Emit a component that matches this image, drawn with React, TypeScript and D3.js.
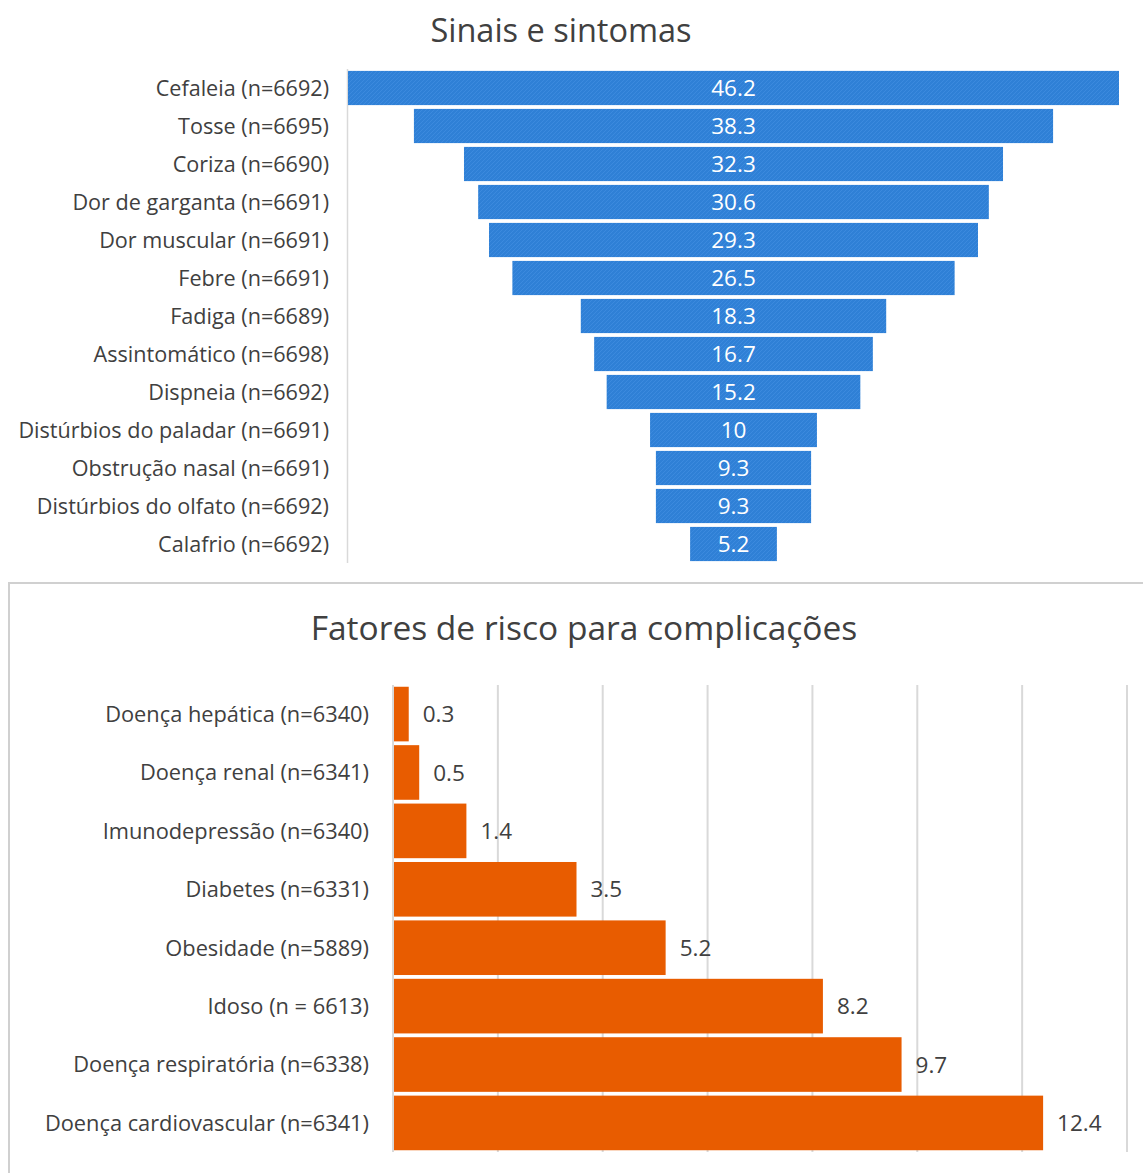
import React from "react";
import * as d3 from "d3";

const symptomLabels = [
  "Cefaleia (n=6692)",
  "Tosse (n=6695)",
  "Coriza (n=6690)",
  "Dor de garganta (n=6691)",
  "Dor muscular (n=6691)",
  "Febre (n=6691)",
  "Fadiga (n=6689)",
  "Assintomático (n=6698)",
  "Dispneia (n=6692)",
  "Distúrbios do paladar (n=6691)",
  "Obstrução nasal (n=6691)",
  "Distúrbios do olfato (n=6692)",
  "Calafrio (n=6692)",
];
const symptomValues = [46.2, 38.3, 32.3, 30.6, 29.3, 26.5, 18.3, 16.7, 15.2, 10, 9.3, 9.3, 5.2];

const riskLabels = [
  "Doença hepática (n=6340)",
  "Doença renal (n=6341)",
  "Imunodepressão (n=6340)",
  "Diabetes (n=6331)",
  "Obesidade (n=5889)",
  "Idoso (n = 6613)",
  "Doença respiratória (n=6338)",
  "Doença cardiovascular (n=6341)",
];
const riskValues = [0.3, 0.5, 1.4, 3.5, 5.2, 8.2, 9.7, 12.4];
const riskTicks = [0, 2, 4, 6, 8, 10, 12, 14];

const FONT = "'Open Sans', 'DejaVu Sans', sans-serif";
const TEXT = "#404040";
const GRID = "#d9d9d9";
const BLUE = "#2f80d6";
const ORANGE = "#e85c00";

export default function App() {
  // top funnel chart
  const center = 733.5;
  const wScale = d3.scaleLinear().domain([0, 46.2]).range([0, 771]);
  const yTop = d3.scaleBand<string>().domain(symptomLabels).range([69, 563]).paddingInner(0.1).paddingOuter(0.05);

  // bottom bar chart
  const x0 = 393;
  const xB = d3.scaleLinear().domain([0, 14]).range([x0, 1127]);
  const yB = d3.scaleBand<string>().domain(riskLabels).range([685, 1152]).paddingInner(0.065).paddingOuter(0.03);

  return (
    <svg
      width={1143}
      height={1173}
      style={{ position: "absolute", left: 0, top: 0, background: "#fff" }}
      fontFamily={FONT}
    >
      <defs>
        <pattern id="hatch" width="4" height="4" patternUnits="userSpaceOnUse">
          <rect width="4" height="4" fill={BLUE} />
          <path d="M0,4 L4,0" stroke="#3c8ade" strokeWidth="1" />
        </pattern>
      </defs>
      <rect x={0} y={0} width={1143} height={1173} fill="#fff" />

      {/* Top chart */}
      <text x={561} y={42} textAnchor="middle" fontSize={32.5} fill={TEXT}>
        Sinais e sintomas
      </text>
      <line x1={347.5} x2={347.5} y1={69} y2={563} stroke={GRID} strokeWidth={1.5} />
      {symptomLabels.map((c, i) => {
        const w = wScale(symptomValues[i]);
        const y = yTop(c)!;
        const h = yTop.bandwidth();
        return (
          <g key={c}>
            <rect x={center - w / 2} y={y} width={w} height={h} fill="url(#hatch)" />
            <text x={center} y={y + h / 2} dy="0.36em" textAnchor="middle" fontSize={22.5} fill="#fff">
              {symptomValues[i]}
            </text>
            <text x={329} y={y + h / 2} dy="0.36em" textAnchor="end" fontSize={21.6} fill={TEXT}>
              {c}
            </text>
          </g>
        );
      })}

      {/* Bottom chart */}
      <rect x={9} y={583} width={1140} height={600} fill="#fff" stroke="#d0d0d0" strokeWidth={2} />
      <text x={584} y={640} textAnchor="middle" fontSize={33.5} fill={TEXT}>
        Fatores de risco para complicações
      </text>
      {riskTicks.map((t) => (
        <line key={t} x1={xB(t)} x2={xB(t)} y1={685} y2={1152} stroke={GRID} strokeWidth={2} />
      ))}
      {riskLabels.map((c, i) => {
        const y = yB(c)!;
        const h = yB.bandwidth();
        const xe = xB(riskValues[i]);
        return (
          <g key={c}>
            <rect x={x0 + 1} y={y} width={xe - x0 - 1} height={h} fill={ORANGE} />
            <text x={xe + 14} y={y + h / 2} dy="0.36em" fontSize={22.5} fill={TEXT}>
              {riskValues[i]}
            </text>
            <text x={369} y={y + h / 2} dy="0.36em" textAnchor="end" fontSize={21.8} fill={TEXT}>
              {c}
            </text>
          </g>
        );
      })}
    </svg>
  );
}
